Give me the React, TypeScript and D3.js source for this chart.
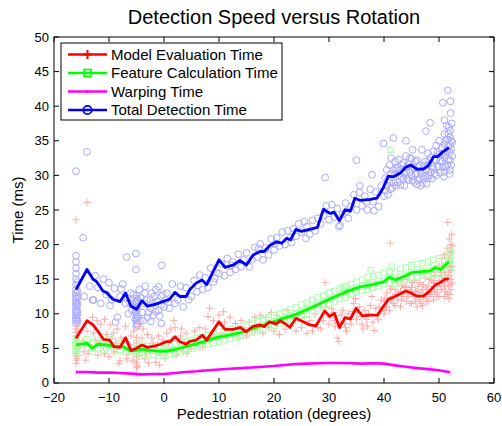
import React from "react";
import * as d3 from "d3";

// ---------- data ----------
const title = "Detection Speed versus Rotation";
const xLabel = "Pedestrian rotation (degrees)";
const yLabel = "Time (ms)";
const xTicks = [-20, -10, 0, 10, 20, 30, 40, 50, 60];
const yTicks = [0, 5, 10, 15, 20, 25, 30, 35, 40, 45, 50];
const seriesNames = ["Model Evaluation Time", "Feature Calculation Time", "Warping Time", "Total Detection Time"];

// mean lines
const totalLine: [number, number][] = [
  [-16, 13.5], [-14, 16.4], [-12.9, 15.0], [-12.2, 14.6], [-11.1, 13.3], [-10.4, 13.05], [-9.3, 12.1], [-8, 11.75],
  [-7, 13.0], [-6, 11.1], [-5, 10.65], [-4, 11.9], [-3, 11.1], [-1.5, 11.4], [1, 12.1], [2, 13.1], [2.9, 12.5],
  [4, 12.5], [4.7, 13.5], [5.8, 14.4], [6.9, 14.9], [7.75, 14.2], [10, 17.8], [11.1, 16.7], [12.6, 17.05],
  [13.8, 17.7], [15, 17.05], [16.2, 18.5], [17.45, 19.0], [18.2, 19.0], [19.3, 19.9], [20.5, 20.4], [21.4, 20.2],
  [22.3, 20.9], [23, 20.7], [24, 22.2], [25, 21.9], [26.5, 22.2], [27.9, 22.5], [29.0, 25.1], [30.2, 24.5],
  [30.9, 24.7], [31.9, 23.45], [32.9, 25.0], [33.9, 24.85], [34.7, 26.7], [35.6, 26.4], [37.3, 26.5], [38.7, 26.7],
  [39.8, 28.1], [40.8, 29.9], [41.7, 29.8], [42.9, 30.3], [44.0, 31.2], [44.85, 31.5], [45.95, 30.9], [47.15, 30.9],
  [48.05, 31.4], [49.0, 32.7], [49.7, 32.7], [50.7, 33.4], [51.8, 34.0],
];
const modelLine: [number, number][] = [
  [-16, 6.45], [-14, 9.0], [-12.9, 8.4], [-11.75, 7.2], [-11, 6.3], [-9.9, 6.2], [-9.1, 5.25], [-8, 5.15], [-7, 6.55],
  [-6, 4.7], [-5.3, 4.9], [-4, 5.5], [-3, 5.15], [-1.6, 5.35], [-0.7, 5.6], [0.4, 5.97], [1.1, 5.97], [2, 6.7],
  [2.9, 5.97], [4, 5.6], [4.7, 6.0], [5.8, 6.2], [7, 6.9], [7.75, 6.2], [10, 8.85], [11.1, 7.75], [12.6, 7.75],
  [13.9, 8.05], [14.9, 7.4], [16.2, 8.2], [17.45, 8.4], [18.2, 8.15], [19.15, 8.85], [20.4, 8.5], [21.1, 9.0],
  [22, 8.6], [22.9, 8.05], [24, 9.35], [25.3, 8.85], [26.5, 8.4], [27.6, 8.25], [28.4, 9.3], [29.2, 10.4],
  [30.1, 9.65], [31, 10.05], [31.9, 8.0], [32.9, 9.45], [33.9, 9.25], [34.9, 10.8], [36.1, 9.7], [37.45, 9.8],
  [38.8, 9.8], [39.75, 10.9], [40.8, 12.1], [41.7, 12.4], [42.9, 12.85], [44, 13.3], [44.85, 13.05], [45.95, 12.55],
  [47.15, 12.55], [48.2, 13.2], [49.3, 14.15], [50.2, 14.5], [51.1, 15.0], [51.8, 15.0],
];
const featureLine: [number, number][] = [
  [-16, 5.5], [-14, 5.75], [-13, 5.0], [-12.1, 5.6], [-10.5, 5.5], [-8.9, 5.25], [-7.4, 5.25], [-5.9, 4.6],
  [-4.4, 4.9], [-2.85, 4.75], [-1.3, 4.6], [0.5, 4.6], [2.3, 4.9], [4.4, 5.35], [7.1, 5.95], [9.6, 6.6], [12, 6.95],
  [14.4, 7.4], [16.85, 8.05], [19.3, 8.7], [21.7, 9.35], [24.1, 9.95], [26.5, 10.8], [28.4, 11.5], [30.8, 12.4],
  [33.2, 13.2], [35.6, 13.9], [37.45, 14.15], [39.9, 14.6], [41.0, 15.3], [42.0, 14.9], [43.5, 15.35], [45.0, 15.95],
  [46.85, 16.1], [48.4, 16.2], [49.3, 16.7], [50.3, 16.4], [51.8, 17.5],
];
const warpLine: [number, number][] = [
  [-16, 1.6], [-14, 1.6], [-12, 1.5], [-10, 1.5], [-8, 1.45], [-6, 1.35], [-4, 1.25], [-2, 1.3], [0, 1.3], [2, 1.45],
  [4, 1.6], [6, 1.7], [8, 1.85], [10, 1.95], [12, 2.05], [14, 2.15], [16, 2.25], [18, 2.35], [20, 2.45], [22, 2.6],
  [24, 2.75], [26, 2.8], [28, 2.85], [30, 2.9], [32, 2.9], [34, 2.85], [36, 2.8], [38, 2.85], [40, 2.8], [42, 2.55],
  [44, 2.35], [46, 2.15], [48, 2.0], [50, 1.85], [52, 1.55],
];

// individual measurements
const totalPoints: [number, number][] = [
  [-16, 8.6], [-16, 9.0], [-16, 9.4], [-16, 9.8], [-16, 10.2], [-16, 10.6], [-16, 11.0], [-16, 11.4], [-16, 11.8],
  [-16, 12.2], [-16, 12.6], [-16, 13.0], [-16, 13.5], [-16, 14.2], [-16, 15.0], [-16, 15.8], [-16, 16.6], [-16, 17.5],
  [-16, 18.4], [-16, 30.6], [-15.8, 9.2], [-15.8, 10.4], [-15.8, 11.6], [-15.8, 14.6],
  [-15.7, 8.8], [-15.7, 10.0], [-15.7, 11.2], [-15.7, 12.4], [-15.7, 13.2],
  [-5, 8.2], [-5, 8.6], [-5, 9.0], [-5, 9.4], [-5, 9.8], [-5, 10.2], [-5, 10.6], [-5, 11.0], [-5, 11.4], [-5, 11.8],
  [-5, 12.2], [-5, 12.6], [-5.1, 16.4], [-5.1, 18.7],
  [-4.8, 8.4], [-4.8, 9.6], [-4.8, 10.8], [-4.8, 12.0], [-5.2, 9.2], [-5.2, 10.4], [-5.2, 11.6],
  [-14.7, 21.0], [-14, 33.4], [-14.5, 12.5], [-13.5, 14.0], [-13, 12.0], [-12.5, 15.5], [-12, 13.8], [-11.5, 11.5],
  [-11, 15.0], [-10.5, 12.8], [-10, 14.5], [-9.5, 12.0], [-9, 13.7], [-8.5, 9.5], [-8.8, 8.8], [-8, 12.5], [-7.5, 14.3],
  [-7, 11.5], [-6.8, 18.2], [-6.5, 10.0], [-6, 13.0], [-5.5, 12.8], [-4.5, 13.5], [-4, 10.2], [-3.5, 13.0], [-3, 9.5],
  [-2.5, 12.0], [-2, 11.5], [-2, 9.8], [-1.5, 13.5], [-1, 10.5], [-0.5, 12.5], [-0.4, 17.0], [0, 11.0], [0.5, 13.0],
  [1, 10.8], [1.5, 14.3], [2, 11.5], [2.5, 12.0], [3, 14.0], [3.5, 11.0], [4, 13.8], [4.5, 12.0], [-1.5, 10.3],
  [-2.5, 10.8], [-3.5, 11.5], [-0.5, 11.3], [0.3, 12.0], [-9.8, 11.2], [-12.8, 12.0], [-7.8, 13.6],
  [-6.2, 11.5], [-5.8, 10.5], [-4.2, 12.3], [-3.8, 9.0], [-3.2, 12.0], [-2.8, 10.2], [-2.2, 13.0], [-1.8, 12.5],
  [-1.2, 11.8], [-0.8, 9.7], [-0.2, 12.8], [0.8, 11.7], [-4.4, 8.9], [-6.6, 12.2], [-3.4, 14.0], [-1.0, 13.9],
  [-2.4, 8.9], [-0.5, 8.6],
  [5, 12.5], [5.5, 14.8], [6, 13.2], [6.5, 15.6], [7, 13.5], [7.5, 15.2], [8, 13.8], [8.5, 16.6], [9, 14.6],
  [9.5, 16.0], [10, 15.8], [10.5, 17.2], [11, 15.5], [11.5, 18.0], [12, 16.0], [12.5, 17.5], [13, 16.4], [13.5, 18.6],
  [14, 16.8], [14.5, 17.8], [15, 18.8], [15.5, 16.8], [16, 17.8], [16.5, 19.6], [17, 18.2], [17.5, 20.1], [18, 17.8],
  [18.5, 19.5], [19, 18.5], [19.5, 20.8], [20, 19.2], [20.5, 21.0], [21, 19.8], [21.5, 21.8], [22, 20.0], [22.5, 22.0],
  [23, 21.0], [23.5, 22.3], [24, 21.2], [24.5, 23.0], [25, 21.8], [25.5, 23.3], [26, 22.6], [26.5, 21.5], [27, 23.5],
  [27.5, 22.0], [28, 23.8], [6.2, 14.1], [9.2, 15.1], [12.2, 17.0], [17.2, 19.4], [20.2, 20.1], [23.2, 20.3], [25.8, 20.9],
  [28.5, 23.0], [29, 24.2], [29.3, 29.7], [29.5, 25.6], [30, 23.6], [30.5, 25.8], [31, 24.0], [31.5, 25.2], [32, 22.8],
  [32.5, 24.4], [33, 26.0], [33.5, 23.8], [34, 25.5], [34.5, 27.2], [35, 25.0], [35, 32.2], [35.5, 27.5], [35.6, 28.5],
  [36, 25.6], [36.5, 27.0], [37, 25.0], [37.5, 28.0], [37.8, 30.1], [38, 26.2], [38.5, 27.6], [39, 25.5], [39.5, 28.5],
  [39.9, 34.6], [40, 27.0], [31.8, 22.6], [33.2, 24.8], [36.8, 26.2], [38.2, 24.9],
  [40.5, 28.5], [40.5, 30.8], [41, 29.0], [41, 31.5], [41.5, 28.2], [41.7, 35.4], [42, 30.2], [42, 32.0], [42.5, 29.0],
  [42.5, 31.2], [43, 28.6], [43, 30.8], [43.5, 31.8], [43.5, 29.5], [44, 30.5], [44, 32.8], [44, 35.0], [44.5, 29.3],
  [44.5, 31.6], [45, 30.0], [45, 32.4], [45.2, 33.7], [45.5, 29.0], [45.5, 31.0], [46, 28.7], [46, 30.3], [46, 32.2],
  [46.5, 29.5], [46.5, 31.5], [46.9, 33.7], [47, 28.9], [47, 30.7], [47.5, 32.0], [47.5, 30.0], [47.6, 36.4], [48, 29.6],
  [48, 31.5], [48, 33.2], [48.4, 37.6], [48.5, 30.5], [48.5, 32.6], [49, 31.0], [49, 33.5], [49.5, 30.0], [49.5, 32.2],
  [49.5, 34.3], [50, 31.3], [50, 33.0], [50, 35.0], [50.5, 32.0], [50.5, 34.0], [50.7, 40.5], [51, 30.5], [51, 32.5],
  [51, 34.5], [51, 36.0], [51, 38.0], [51.5, 31.5], [51.5, 33.5], [51.5, 35.2], [51.6, 42.3], [51.8, 37.0], [52, 30.8],
  [52, 32.2], [52, 33.3], [52, 34.4], [52, 35.5], [52, 36.5], [52.1, 40.7], [52.1, 39.0],
  [40.2, 27.8], [40.2, 29.6], [40.7, 29.4], [40.7, 27.2], [41.2, 30.2], [41.2, 28.0], [41.3, 32.5], [41.8, 29.0],
  [41.8, 30.8], [42.2, 28.5], [42.2, 31.0], [42.7, 30.0], [42.7, 32.3], [43.2, 29.8], [43.2, 31.5], [43.7, 30.2],
  [43.7, 28.5], [44.2, 31.2], [44.2, 29.5], [44.7, 30.5], [44.7, 32.5], [45.2, 31.2], [45.2, 29.3], [45.7, 30.2],
  [45.7, 32.0], [46.2, 29.3], [46.2, 31.2], [46.7, 30.2], [46.7, 28.5], [47.2, 31.4], [47.2, 29.5], [47.7, 30.8],
  [47.7, 28.8], [48.2, 30.0], [48.2, 32.2], [48.7, 31.3], [48.7, 29.5], [49.2, 32.3], [49.2, 30.3], [49.7, 31.2],
  [49.7, 33.4], [50.2, 32.2], [50.2, 30.4], [50.7, 31.2], [50.7, 33.2], [51.2, 31.2], [51.2, 33.0], [51.2, 35.0],
  [51.7, 32.2], [51.7, 34.2], [51.7, 36.0], [52.2, 31.5], [52.2, 33.8], [52.2, 35.0], [52.4, 32.8], [52.4, 34.8],
  [51.9, 30.2], [50.9, 29.8], [52.3, 37.5], [51.4, 37.2],
];
const modelPoints: [number, number][] = [
  [-16, 2.8], [-16, 3.3], [-16, 3.8], [-16, 4.3], [-16, 4.8], [-16, 5.3], [-16, 5.8], [-16, 6.3], [-16, 6.8], [-16, 7.3],
  [-16, 7.8], [-16, 23.6], [-15.8, 3.5], [-15.8, 5.0], [-15.8, 6.5], [-15.8, 8.2], [-14, 26.1],
  [-5, 2.2], [-5, 2.6], [-5, 3.0], [-5, 3.4], [-5, 3.8], [-5, 4.2], [-5, 4.6], [-5, 5.0], [-5, 5.4], [-5, 5.8], [-5, 6.2],
  [-5, 6.6],
  [-14.5, 4.5], [-14, 7.5], [-13.5, 5.5], [-13, 9.5], [-12.5, 6.2], [-12, 4.0], [-11.5, 8.5], [-11, 5.2], [-10.5, 7.0],
  [-10, 3.8], [-9.5, 6.5], [-9, 4.5], [-8.5, 7.8], [-8, 3.2], [-7.5, 5.8], [-7, 8.2], [-6.5, 4.2], [-6, 6.8], [-5.5, 7.5],
  [-4.5, 4.0], [-4, 6.5], [-3.5, 3.5], [-3, 7.0], [-2.5, 4.5], [-2, 5.8], [-1.5, 3.0], [-1, 6.8], [-0.5, 4.0], [0, 5.5],
  [0.5, 7.2], [1, 4.8], [1.5, 6.3], [2, 8.0], [2.5, 5.0], [3, 6.8], [3.5, 4.5], [4, 7.2], [4.5, 5.2], [-8.2, 2.8],
  [-2.8, 2.9], [-0.8, 2.6], [-12.2, 9.0], [-10.8, 9.2], [1.8, 9.0],
  [-15.6, 4.0], [-15.6, 6.0], [-15.6, 7.5], [-14.8, 6.0], [-13.8, 4.2], [-12.8, 7.2], [-11.8, 5.8], [-10.2, 5.5],
  [-9.2, 7.2], [-8.8, 5.8], [-7.8, 6.5], [-6.8, 3.5], [-6.2, 5.5], [-5.8, 3.2], [-4.8, 2.4], [-4.2, 5.0], [-3.8, 7.8],
  [-3.2, 4.2], [-2.2, 6.5], [-1.8, 4.8], [-1.2, 5.5], [-0.2, 6.2], [0.2, 3.5], [0.8, 5.8], [1.2, 7.8], [2.2, 4.0],
  [2.8, 5.8], [3.2, 7.8], [3.8, 5.8], [4.2, 4.3], [-14.2, 3.3], [-10.8, 4.2], [-9.8, 8.4], [-4.6, 8.2],
  [5, 5.0], [5.5, 7.5], [6, 5.5], [6.5, 8.0], [7, 5.2], [7.5, 7.8], [8, 9.6], [8.5, 6.8], [9, 9.0], [9.5, 7.0],
  [10, 9.8], [10.5, 7.2], [11, 8.8], [11.5, 6.8], [12, 9.5], [12.5, 7.0], [13, 8.6], [13.5, 6.5], [14, 9.0], [14.5, 7.8],
  [15, 6.8], [15.5, 8.8], [16, 7.5], [16.5, 9.5], [17, 7.8], [17.5, 9.8], [18, 7.2], [18.5, 9.5], [19, 8.0], [19.5, 10.2],
  [20, 7.5], [20.5, 9.8], [21, 7.0], [21.5, 9.5], [22, 7.8], [22.5, 10.5], [23, 8.2], [23.5, 9.8], [24, 7.5], [24.5, 10.0],
  [25, 8.0], [25.5, 9.5], [26, 7.2], [26.5, 9.0], [27, 7.5], [27.5, 10.0], [28, 8.0], [8.3, 10.8], [10.8, 10.3],
  [28.5, 7.8], [29, 9.0], [29.3, 14.5], [29.5, 11.0], [30, 8.5], [30.5, 10.8], [31, 9.0], [31.5, 6.5], [31.8, 6.0],
  [32, 8.8], [32.5, 10.5], [33, 8.0], [33.5, 10.0], [34, 8.5], [34.5, 11.5], [35, 9.2], [35.5, 11.0], [36, 8.5],
  [36.5, 10.5], [37, 8.2], [37.5, 11.2], [38, 8.8], [38.5, 10.8], [39, 9.2], [39.5, 12.0], [40, 10.0], [33.2, 7.5],
  [36.2, 7.8], [38.2, 7.6], [34.8, 12.2], [37.8, 12.5],
  [30.2, 9.5], [30.8, 10.2], [31.2, 8.2], [32.2, 9.8], [32.8, 8.6], [33.8, 9.2], [34.2, 10.3], [35.2, 10.2],
  [35.8, 9.6], [36.8, 9.2], [37.2, 10.0], [38.8, 9.8], [39.2, 11.0], [39.8, 10.8], [40.0, 11.8],
  [40.5, 11.0], [40.5, 13.0], [41, 10.5], [41.1, 20.2], [41.5, 12.5], [41.5, 14.0], [42, 11.2], [42, 13.5], [42.5, 12.0],
  [42.5, 14.5], [43, 11.0], [43, 13.2], [43.5, 12.5], [43.5, 15.0], [44, 11.8], [44, 14.0], [44.5, 12.8], [44.5, 15.5],
  [45, 11.5], [45, 13.8], [45.5, 12.5], [45.5, 14.8], [46, 11.0], [46, 13.2], [46.5, 12.0], [46.5, 14.5], [47, 11.2],
  [47, 13.5], [47.5, 12.5], [47.5, 15.2], [48, 11.8], [48, 14.0], [48.5, 12.8], [48.5, 16.0], [49, 12.0], [49, 14.5],
  [49.5, 13.0], [49.5, 16.5], [50, 12.5], [50, 14.8], [50, 17.0], [50.5, 13.5], [50.5, 15.5], [50.5, 18.0], [51, 12.5],
  [51, 14.0], [51, 16.0], [51, 18.5], [51.5, 13.0], [51.5, 15.0], [51.5, 17.0], [51.5, 19.5], [51.6, 23.2], [52, 12.8],
  [52, 14.2], [52, 15.5], [52, 16.8], [52, 18.0], [52, 19.0], [52.3, 21.5], [52.2, 20.0],
  [40.2, 10.5], [40.2, 12.3], [40.7, 11.8], [41.2, 12.0], [41.2, 13.6], [41.7, 11.5], [42.2, 12.8], [42.2, 14.8],
  [42.7, 13.0], [43.2, 12.0], [43.2, 14.0], [43.7, 13.8], [44.2, 12.5], [44.2, 15.0], [44.7, 13.5], [44.7, 11.5],
  [45.2, 12.8], [45.2, 14.5], [45.7, 13.3], [45.7, 11.8], [46.2, 12.5], [46.2, 14.0], [46.7, 13.0], [46.7, 11.5],
  [47.2, 12.5], [47.2, 14.2], [47.7, 13.5], [47.7, 11.8], [48.2, 12.5], [48.2, 15.0], [48.7, 13.5], [48.7, 14.8],
  [49.2, 13.2], [49.2, 15.5], [49.7, 14.0], [49.7, 12.5], [50.2, 13.5], [50.2, 16.0], [50.7, 14.5], [50.7, 16.8],
  [51.2, 13.2], [51.2, 15.2], [51.2, 17.2], [51.7, 14.0], [51.7, 16.0], [51.7, 18.0], [52.2, 13.5], [52.2, 15.0],
  [52.2, 16.2], [52.2, 17.5], [52.2, 18.8], [52.4, 14.5], [52.4, 16.8], [52.4, 19.8], [51.9, 20.8], [51.8, 12.2],
];
const featurePoints: [number, number][] = [
  [-16, 4.3], [-16, 4.8], [-16, 5.3], [-16, 5.8], [-16, 6.3], [-15.8, 5.0], [-15.8, 6.0], [-14, 5.2], [-14, 6.3],
  [-13, 4.6], [-13, 5.8], [-12, 5.0], [-12, 6.2], [-11, 4.8], [-11, 6.0], [-10, 5.2], [-10, 6.3], [-9, 4.6], [-9, 5.9],
  [-8, 4.8], [-8, 5.7], [-7, 4.4], [-7, 5.6], [-5, 3.8], [-5, 4.3], [-5, 4.8], [-5, 5.3], [-5, 5.8], [-4, 4.2], [-4, 5.5],
  [-3, 4.0], [-3, 5.3], [-2, 4.1], [-2, 5.2], [-1, 3.9], [-1, 5.0], [0, 4.0], [0, 5.2], [1, 4.2], [1, 5.4], [2, 4.3],
  [2, 5.6], [3, 4.6], [3, 5.9], [4, 4.8], [4, 6.0], [5, 5.0], [5, 6.2], [6, 5.2], [6, 6.5], [7, 5.3], [7, 6.6], [8, 5.6],
  [8, 6.9], [9, 5.8], [9, 7.2], [10, 6.0], [10, 7.4], [11, 6.2], [11, 7.5], [12, 6.4], [12, 7.7], [13, 6.6], [13, 7.9],
  [14, 6.8], [14, 8.2], [15, 7.0], [15, 8.4], [16, 7.3], [16, 8.7], [17, 7.5], [17, 8.9], [18, 7.8], [18, 9.2], [19, 8.1],
  [19, 9.5], [20, 8.3], [20, 9.8], [21, 8.6], [21, 10.0], [22, 8.9], [22, 10.3], [23, 9.1], [23, 10.6], [24, 9.4],
  [24, 10.9], [25, 9.7], [25, 11.3], [26, 10.0], [26, 11.6], [27, 10.4], [27, 12.0], [28, 10.8], [28, 12.4], [29, 11.2],
  [29, 12.6], [30, 11.5], [30, 13.0], [31, 11.8], [31, 13.3], [32, 12.2], [32, 13.6], [32.6, 13.8], [33, 12.4],
  [33, 14.0], [34, 12.8], [34, 14.3], [35, 13.2], [35, 14.6], [36, 13.4], [36, 14.9], [37, 13.5], [37, 15.2],
  [37.6, 16.3], [38, 13.8], [38, 15.4], [39, 14.0], [39, 15.6], [40, 14.3], [40, 15.9], [41, 14.5], [41, 16.2],
  [41.2, 33.7], [41.4, 16.8], [42, 14.3], [42, 16.0], [43, 14.6], [43, 16.5], [44, 15.0], [44, 16.7], [45, 15.2],
  [45, 17.0], [46, 15.4], [46, 17.2], [47, 15.6], [47, 17.3], [48, 15.6], [48, 17.5], [49, 15.8], [49, 17.8], [50, 15.8],
  [50, 18.0], [51, 16.0], [51, 18.3], [52, 16.2], [52, 17.0], [52, 18.0], [52, 18.8], [52, 19.2],
  [-16, 5.5], [-15, 5.6], [-14, 5.75], [-13, 5.0], [-12, 5.6], [-11, 5.5], [-10, 5.45], [-9, 5.25], [-8, 5.25],
  [-7, 5.1], [-6, 4.6], [-5, 4.8], [-4, 4.85], [-3, 4.75], [-2, 4.7], [-1, 4.6], [0, 4.6], [1, 4.7], [2, 4.85],
  [3, 5.0], [4, 5.25], [5, 5.5], [6, 5.7], [7, 5.95], [8, 6.2], [9, 6.45], [10, 6.65], [11, 6.8], [12, 6.95],
  [13, 7.15], [14, 7.35], [15, 7.6], [16, 7.85], [17, 8.1], [18, 8.4], [19, 8.6], [20, 8.9], [21, 9.15], [22, 9.45],
  [23, 9.7], [24, 9.95], [25, 10.3], [26, 10.65], [27, 11.0], [28, 11.35], [29, 11.7], [30, 12.1], [31, 12.45],
  [32, 12.8], [33, 13.1], [34, 13.45], [35, 13.75], [36, 13.95], [37, 14.1], [38, 14.25], [39, 14.45], [40, 14.75],
  [41, 15.3], [42, 14.9], [43, 15.2], [44, 15.55], [45, 15.95], [46, 16.0], [47, 16.1], [48, 16.2], [49, 16.5],
  [50, 16.5], [51, 17.0], [52, 17.6],
];
const warpPoints: [number, number][] = [
  [-16, 1.3], [-16, 1.8], [-15, 1.5], [-13, 1.7], [-11, 1.4], [-9, 1.6], [-7, 1.3], [-5, 1.0], [-5, 1.5], [-3, 1.2],
  [-1, 1.4], [1, 1.2], [3, 1.6], [5, 1.5], [7, 1.9], [9, 1.8], [11, 2.1], [13, 1.9], [15, 2.3], [17, 2.2], [19, 2.5],
  [21, 2.4], [23, 2.8], [25, 2.6], [27, 3.0], [29, 2.7], [31, 3.0], [33, 2.8], [35, 2.9], [37, 2.7], [39, 2.9], [41, 2.6],
  [43, 2.4], [45, 2.2], [47, 2.0], [48.5, 2.4], [49, 1.9], [51, 1.7], [52, 1.3], [52.3, 1.5],
];

// ---------- layout ----------
const W = 502, H = 426;
const M = { left: 54, right: 494, top: 37, bottom: 383 };
const FONT = "'Liberation Sans', Arial, Helvetica, sans-serif";

const x = d3.scaleLinear().domain([-20, 60]).range([M.left, M.right]);
const y = d3.scaleLinear().domain([0, 50]).range([M.bottom, M.top]);
const line = d3.line<[number, number]>().x((d) => x(d[0])).y((d) => y(d[1]));

const C = {
  red: "#ff0000", green: "#00ff00", magenta: "#ff00ff", blue: "#0000ff",
  lred: "#ffaaaa", lgreen: "#aaffaa", lmag: "#ffaaff", lblue: "#aaaaff",
};

function Plus({ cx, cy, s, color, w }: { cx: number; cy: number; s: number; color: string; w: number }) {
  return <path d={`M${cx - s},${cy}H${cx + s}M${cx},${cy - s}V${cy + s}`} stroke={color} strokeWidth={w} fill="none" />;
}

export default function App() {
  const legendItems = [
    { name: seriesNames[0], color: C.red, marker: "plus" },
    { name: seriesNames[1], color: C.green, marker: "square" },
    { name: seriesNames[2], color: C.magenta, marker: "dot" },
    { name: seriesNames[3], color: C.blue, marker: "circle" },
  ];
  const legendRowsY = [54.5, 73, 91.5, 110];
  return (
    <svg width={W} height={H} style={{ position: "absolute", left: 0, top: 0, background: "#fff" }} fontFamily={FONT}>
      <rect x={0} y={0} width={W} height={H} fill="#fff" />
      {/* scatter */}
      <g>
        {totalPoints.map((d, i) => (
          <circle key={"b" + i} cx={x(d[0])} cy={y(d[1])} r={3.4} fill="none" stroke={C.lblue} strokeWidth={1} />
        ))}
        {modelPoints.map((d, i) => (
          <Plus key={"r" + i} cx={x(d[0])} cy={y(d[1])} s={3.6} color={C.lred} w={1} />
        ))}
        {featurePoints.map((d, i) => (
          <rect key={"g" + i} x={x(d[0]) - 2.8} y={y(d[1]) - 2.8} width={5.6} height={5.6} fill="none" stroke={C.lgreen} strokeWidth={1} />
        ))}
        {warpPoints.map((d, i) => (
          <circle key={"m" + i} cx={x(d[0])} cy={y(d[1])} r={1} fill={C.lmag} />
        ))}
      </g>
      {/* mean lines */}
      <path d={line(warpLine) ?? ""} fill="none" stroke={C.magenta} strokeWidth={2.6} strokeLinejoin="round" />
      <path d={line(featureLine) ?? ""} fill="none" stroke={C.green} strokeWidth={2.8} strokeLinejoin="round" />
      <path d={line(modelLine) ?? ""} fill="none" stroke={C.red} strokeWidth={2.8} strokeLinejoin="round" />
      <path d={line(totalLine) ?? ""} fill="none" stroke={C.blue} strokeWidth={2.8} strokeLinejoin="round" />
      {/* axes box */}
      <rect x={M.left} y={M.top} width={M.right - M.left} height={M.bottom - M.top} fill="none" stroke="#000" strokeWidth={1} />
      {xTicks.map((t) => (
        <g key={"xt" + t}>
          <line x1={x(t)} x2={x(t)} y1={M.bottom} y2={M.bottom - 5} stroke="#000" />
          <line x1={x(t)} x2={x(t)} y1={M.top} y2={M.top + 5} stroke="#000" />
          <text x={x(t)} y={402} textAnchor="middle" fontSize={13}>{t < 0 ? "\u2212" + Math.abs(t) : t}</text>
        </g>
      ))}
      {yTicks.map((t) => (
        <g key={"yt" + t}>
          <line x1={M.left} x2={M.left + 5} y1={y(t)} y2={y(t)} stroke="#000" />
          <line x1={M.right} x2={M.right - 5} y1={y(t)} y2={y(t)} stroke="#000" />
          <text x={49} y={y(t) + (t === 0 ? 3.5 : 4.5)} textAnchor="end" fontSize={13}>{t}</text>
        </g>
      ))}
      <text x={(M.left + M.right) / 2} y={24} textAnchor="middle" fontSize={20}>{title}</text>
      <text x={(M.left + M.right) / 2} y={418.5} textAnchor="middle" fontSize={15}>{xLabel}</text>
      <text transform={`translate(23,${(M.top + M.bottom) / 2}) rotate(-90)`} textAnchor="middle" fontSize={15}>{yLabel}</text>
      {/* legend */}
      <rect x={61} y={43} width={221} height={77} fill="#fff" stroke="#000" strokeWidth={1} />
      {legendItems.map((it, i) => {
        const ly = legendRowsY[i];
        const cx = 87.5;
        return (
          <g key={"lg" + i}>
            <line x1={68} x2={107} y1={ly} y2={ly} stroke={it.color} strokeWidth={2.6} />
            {it.marker === "plus" && <Plus cx={cx} cy={ly} s={4.5} color={it.color} w={2} />}
            {it.marker === "square" && (
              <rect x={cx - 3.5} y={ly - 3.5} width={7} height={7} fill="none" stroke={it.color} strokeWidth={1.6} />
            )}
            {it.marker === "dot" && <circle cx={cx} cy={ly} r={1.5} fill={it.color} />}
            {it.marker === "circle" && <circle cx={cx} cy={ly} r={4.2} fill="none" stroke={it.color} strokeWidth={1.8} />}
            <text x={111} y={ly + 5} fontSize={15}>{it.name}</text>
          </g>
        );
      })}
    </svg>
  );
}
